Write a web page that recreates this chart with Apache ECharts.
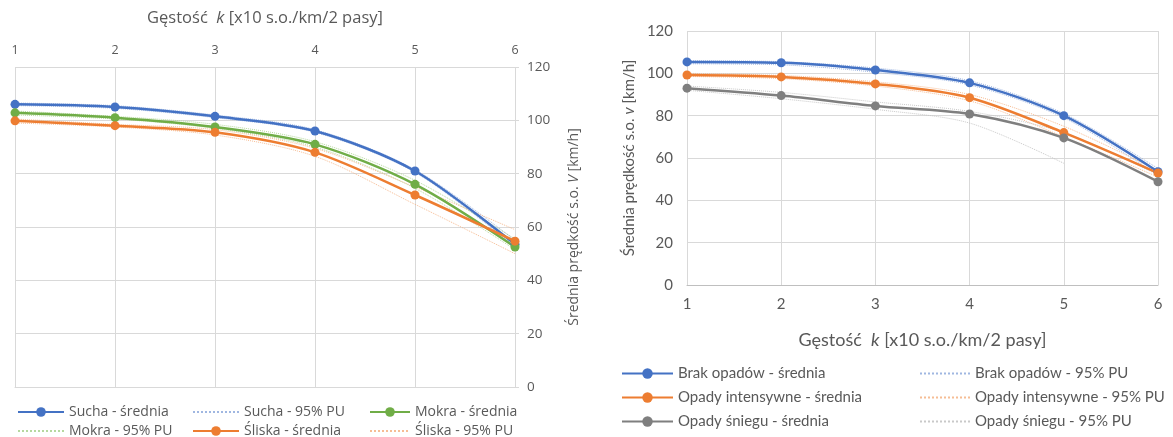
<!DOCTYPE html>
<html><head><meta charset="utf-8">
<script src="https://cdn.jsdelivr.net/npm/echarts@6/dist/echarts.min.js"></script>
<style>html,body{margin:0;padding:0;background:#fff}#c{width:1173px;height:437px}</style>
</head><body><div id="c"></div>
<script>
const xCats = ['1','2','3','4','5','6'];

// Left chart (road surface)
const suchaMean = [106, 105, 101.5, 96, 81, 53.5];
const suchaUp   = [106.5, 105.5, 102, 96.5, 81.5, 55];
const suchaLo   = [105.5, 104.5, 101, 95.5, 80.5, 52.5];
const mokraMean = [102.8, 101, 97.5, 91, 76, 52.5];
const mokraUp   = [103.5, 101.5, 98.5, 92, 77.5, 55.5];
const mokraLo   = [102, 100.5, 97, 90, 74.5, 51.5];
const sliskaMean = [99.8, 98, 95.5, 88, 72, 54.7];
const sliskaUp   = [100.5, 98.5, 96.5, 89.5, 75, 59];
const sliskaLo   = [99, 97.5, 94.5, 86.5, 68.5, 50];

// Right chart (precipitation)
const brakMean = [105.4, 105, 101.6, 95.5, 80, 53.5];
const brakUp   = [106, 105.5, 102.5, 96.5, 81, 55];
const brakLo   = [104.5, 104, 100.5, 94.5, 79, 52];
const intMean  = [99.2, 98.3, 95, 88.5, 72, 52.9];
const intUp    = [100, 99, 96, 90, 75, 54];
const intLo    = [98.5, 97.5, 94, 87, 70, 51];
const snMean   = [93, 89.5, 84.6, 80.8, 69.5, 48.8];
const snUp     = [94, 91, 86.5, 82, 72, 52];
const snLo     = [92, 88, 83, 76.5, 57.5, null];

const BLUE='#4472C4', ORANGE='#ED7D31', GREEN='#70AD47', GRAY='#7F7F7F';
const TXT='#595959';
const chart = echarts.init(document.getElementById('c'));

function mean(name, data, color, xi, yi){
  return {name, type:'line', data, xAxisIndex:xi, yAxisIndex:yi, smooth:0.3,
    symbol:'circle', symbolSize:9, z:5,
    lineStyle:{color, width:2.5}, itemStyle:{color}};
}
function pu(name, data, color, xi, yi){
  return {name, type:'line', data, xAxisIndex:xi, yAxisIndex:yi, smooth:0.3,
    symbol:'none', showSymbol:false, z:3, connectNulls:false,
    lineStyle:{color, width:1, type:'dotted', opacity:0.85}, itemStyle:{color}};
}
const rich = (fs, ff) => ({ i:{fontStyle:'italic', fontSize:fs, color:TXT, fontFamily:ff}, n:{fontSize:fs, color:TXT, fontFamily:ff} });
const legText = (ff, fs) => ({color:TXT, fontSize:fs, fontFamily:ff});
const puItem = name => ({name, itemStyle:{opacity:0}});

const option = {
  animation:false,
  grid:[
    {left:15, right:658, top:67, bottom:50},
    {left:687, right:15, top:31, bottom:152}
  ],
  xAxis:[
    {type:'category', data:xCats, boundaryGap:false, gridIndex:0, position:'top',
     name:'{n|Gęstość  }{i|k}{n| [x10 s.o./km/2 pasy]}', nameLocation:'middle', nameGap:40,
     nameTextStyle:{rich:rich(16.5,'Open Sans')},
     axisLine:{show:true, lineStyle:{color:'#D9D9D9'}}, axisTick:{show:false},
     axisLabel:{color:TXT, fontSize:12.5, fontFamily:'Open Sans', margin:10},
     splitLine:{show:true, lineStyle:{color:'#D9D9D9'}}},
    {type:'category', data:xCats, boundaryGap:false, gridIndex:1, position:'bottom',
     name:'{n|Gęstość  }{i|k}{n| [x10 s.o./km/2 pasy]}', nameLocation:'middle', nameGap:46,
     nameTextStyle:{rich:rich(18,'Lato')},
     axisLine:{show:true, lineStyle:{color:'#BFBFBF'}}, axisTick:{show:false},
     axisLabel:{color:TXT, fontSize:15, fontFamily:'Lato', margin:12},
     splitLine:{show:true, lineStyle:{color:'#D9D9D9'}}}
  ],
  yAxis:[
    {type:'value', gridIndex:0, position:'right', min:0, max:120, interval:20,
     name:'{n|Średnia prędkość s.o. }{i|V}{n| [km/h]}', nameLocation:'middle', nameGap:52,
     nameTextStyle:{rich:rich(14,'Open Sans')},
     axisLine:{show:false}, axisTick:{show:true, length:4, lineStyle:{color:'#D9D9D9'}},
     axisLabel:{color:TXT, fontSize:13.5, fontFamily:'Open Sans', margin:12},
     splitLine:{show:true, lineStyle:{color:'#D9D9D9'}}},
    {type:'value', gridIndex:1, position:'left', min:0, max:120, interval:20,
     name:'{n|Średnia prędkość s.o. }{i|v}{n| [km/h]}', nameLocation:'middle', nameGap:50,
     nameTextStyle:{rich:rich(15,'Lato')},
     axisLine:{show:false}, axisTick:{show:false},
     axisLabel:{color:TXT, fontSize:15, fontFamily:'Lato', margin:14},
     splitLine:{show:true, lineStyle:{color:'#D9D9D9'}}}
  ],
  legend:[
    {left:17, top:405, padding:0, height:40, orient:'vertical', itemGap:5, itemWidth:46, itemHeight:12, textStyle:legText('Open Sans',14),
     data:['Sucha - średnia', puItem('Mokra - 95% PU')]},
    {left:192, top:405, padding:0, height:40, orient:'vertical', itemGap:5, itemWidth:46, itemHeight:12, textStyle:legText('Open Sans',14),
     data:[puItem('Sucha - 95% PU'),'Śliska - średnia']},
    {left:369, top:405, padding:0, height:40, orient:'vertical', itemGap:5, itemWidth:40, itemHeight:12, textStyle:legText('Open Sans',14),
     data:['Mokra - średnia', puItem('Śliska - 95% PU')]},
    {left:621, top:366, padding:0, height:80, orient:'vertical', itemGap:9, itemWidth:51, itemHeight:13, textStyle:legText('Lato',15),
     data:['Brak opadów - średnia','Opady intensywne - średnia','Opady śniegu - średnia']},
    {left:919, top:366, padding:0, height:80, orient:'vertical', itemGap:9, itemWidth:50, itemHeight:13, textStyle:legText('Lato',15),
     data:[puItem('Brak opadów - 95% PU'), puItem('Opady intensywne - 95% PU'), puItem('Opady śniegu - 95% PU')]}
  ],
  series:[
    pu('Sucha - 95% PU', suchaUp, '#8FAADC', 0, 0),
    pu('Sucha - 95% PU', suchaLo, '#8FAADC', 0, 0),
    pu('Mokra - 95% PU', mokraUp, '#A9D18E', 0, 0),
    pu('Mokra - 95% PU', mokraLo, '#A9D18E', 0, 0),
    pu('Śliska - 95% PU', sliskaUp, '#F4B183', 0, 0),
    pu('Śliska - 95% PU', sliskaLo, '#F4B183', 0, 0),
    mean('Sucha - średnia', suchaMean, BLUE, 0, 0),
    mean('Mokra - średnia', mokraMean, GREEN, 0, 0),
    mean('Śliska - średnia', sliskaMean, ORANGE, 0, 0),
    pu('Brak opadów - 95% PU', brakUp, '#8FAADC', 1, 1),
    pu('Brak opadów - 95% PU', brakLo, '#8FAADC', 1, 1),
    pu('Opady intensywne - 95% PU', intUp, '#F4B183', 1, 1),
    pu('Opady intensywne - 95% PU', intLo, '#F4B183', 1, 1),
    pu('Opady śniegu - 95% PU', snUp, '#BFBFBF', 1, 1),
    pu('Opady śniegu - 95% PU', snLo, '#BFBFBF', 1, 1),
    mean('Brak opadów - średnia', brakMean, BLUE, 1, 1),
    mean('Opady intensywne - średnia', intMean, ORANGE, 1, 1),
    mean('Opady śniegu - średnia', snMean, GRAY, 1, 1)
  ]
};
chart.setOption(option);
</script></body></html>
